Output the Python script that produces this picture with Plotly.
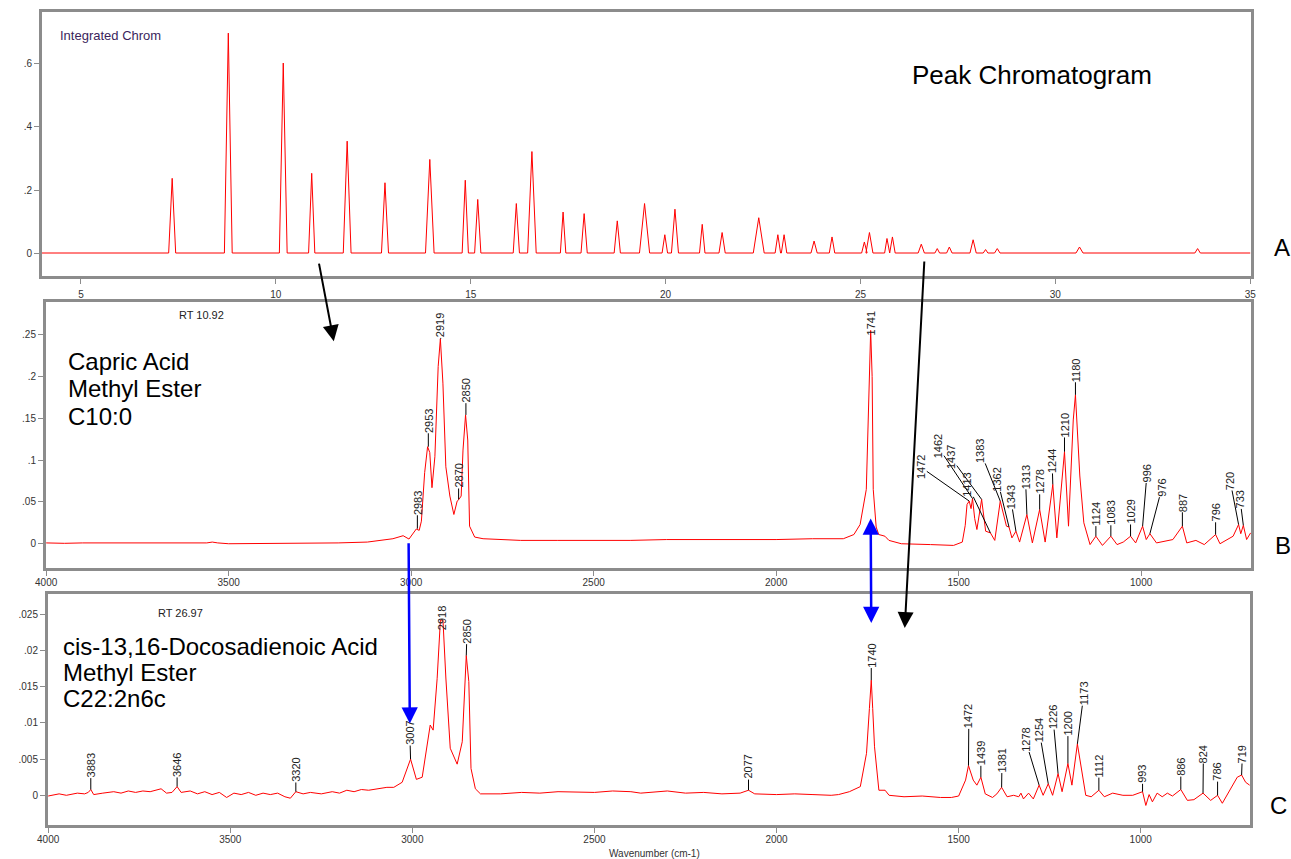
import plotly.graph_objects as go

W, H = 1291, 859
FONT = "Liberation Sans, Arial, sans-serif"

# ---------------- data: A, peak chromatogram ----------------
chrom_rt = [7.34, 8.78, 10.19, 10.92, 11.83, 12.80, 13.95, 14.86, 15.18, 16.17, 16.57, 17.37,
            17.91, 18.76, 19.46, 19.98, 20.24, 20.94, 21.45, 22.39, 22.88, 23.04, 23.81, 24.27,
            25.10, 25.23, 25.68, 25.82, 26.56, 26.97, 27.28, 27.89, 28.21, 28.51, 30.62, 33.65]
chrom_h = [0.237, 0.698, 0.603, 0.253, 0.355, 0.223, 0.297, 0.231, 0.170, 0.157, 0.322, 0.130,
           0.125, 0.102, 0.157, 0.058, 0.139, 0.091, 0.065, 0.112, 0.058, 0.058, 0.038, 0.051,
           0.035, 0.065, 0.046, 0.051, 0.028, 0.014, 0.019, 0.042, 0.011, 0.014, 0.019, 0.014]
chrom_hw = [0.09, 0.10, 0.10, 0.08, 0.10, 0.09, 0.11, 0.08, 0.08, 0.08, 0.11, 0.07,
            0.08, 0.08, 0.13, 0.07, 0.09, 0.07, 0.08, 0.14, 0.07, 0.07, 0.08, 0.07,
            0.07, 0.09, 0.06, 0.07, 0.08, 0.06, 0.07, 0.08, 0.06, 0.07, 0.09, 0.07]
chrom_start, chrom_end = 4.0, 35.0

# ---------------- data: B, IR spectrum at RT 10.92 ----------------
b_wn = [4000, 3950, 3900, 3700, 3560, 3545, 3530, 3500, 3300, 3200, 3120, 3086, 3050, 3022, 3006,
        2986, 2978, 2972, 2963, 2955, 2949, 2943, 2935, 2926, 2920, 2913, 2905, 2894, 2883, 2874,
        2869, 2863, 2858, 2851, 2845, 2840, 2826, 2803, 2758, 2700, 2600, 2500, 2400, 2300, 2200,
        2100, 2000, 1900, 1816, 1787, 1770, 1753, 1745, 1741, 1737, 1734, 1726, 1719, 1710, 1702,
        1691, 1657, 1577, 1514, 1490, 1482, 1477, 1471, 1466, 1462, 1456, 1450, 1437, 1426, 1413,
        1401, 1386, 1377, 1369, 1362, 1354, 1343, 1333, 1313, 1298, 1278, 1263, 1242, 1231, 1210,
        1199, 1186, 1180, 1168, 1157, 1140, 1124, 1106, 1083, 1066, 1049, 1029, 1015, 996, 986,
        976, 958, 913, 887, 875, 850, 827, 796, 784, 759, 748, 733, 727, 720, 711, 700]
b_abs = [0.001, 0.0005, 0.001, 0.0005, 0.001, 0.002, 0.001, 0.0, 0.0005, 0.001, 0.002, 0.004, 0.006, 0.0096, 0.0056,
         0.0176, 0.016, 0.027, 0.085, 0.116, 0.109, 0.067, 0.104, 0.212, 0.245, 0.192, 0.092, 0.057, 0.035, 0.051,
         0.053, 0.057, 0.112, 0.154, 0.124, 0.021, 0.008, 0.006, 0.005, 0.004, 0.004, 0.004, 0.004, 0.005, 0.005,
         0.005, 0.005, 0.006, 0.006, 0.011, 0.023, 0.065, 0.200, 0.255, 0.200, 0.065, 0.020, 0.011, 0.010, 0.009,
         0.004, 0.0, -0.001, -0.002, 0.002, 0.022, 0.047, 0.051, 0.042, 0.054, 0.030, 0.017, 0.053, 0.015, 0.013,
         0.004, 0.051, 0.033, 0.021, 0.020, 0.007, 0.015, 0.002, 0.035, 0.001, 0.041, 0.002, 0.071, 0.007, 0.110,
         0.021, 0.148, 0.178, 0.081, 0.025, -0.001, 0.009, -0.002, 0.009, -0.001, 0.002, 0.009, 0.001, 0.021, 0.005,
         0.012, 0.001, 0.005, 0.021, 0.001, 0.004, -0.001, 0.011, 0.0, 0.006, 0.009, 0.023, 0.012, 0.022, 0.005, 0.013]

b_peak_labels = ["2983", "2953", "2919", "2870", "2850", "1741", "1472", "1462", "1437", "1413", "1383",
                 "1362", "1343", "1313", "1278", "1244", "1210", "1180", "1124", "1083", "1029", "996",
                 "976", "887", "796", "720", "733"]
b_peak_wn = [2983, 2953, 2919, 2870, 2850, 1741, 1471, 1462, 1437, 1413, 1386,
             1362, 1343, 1313, 1278, 1242, 1210, 1180, 1124, 1083, 1029, 996,
             976, 887, 796, 733, 720]
b_peak_abs = [0.018, 0.116, 0.245, 0.053, 0.154, 0.255, 0.051, 0.054, 0.053, 0.013, 0.051,
              0.020, 0.015, 0.035, 0.041, 0.071, 0.110, 0.178, 0.009, 0.009, 0.009, 0.021,
              0.012, 0.021, 0.011, 0.023, 0.022]

# ---------------- data: C, IR spectrum at RT 26.97 ----------------
c_wn = [4000, 3970, 3950, 3920, 3900, 3890, 3883, 3875, 3850, 3820, 3800, 3780, 3760, 3740, 3720,
        3700, 3690, 3675, 3660, 3646, 3635, 3610, 3590, 3570, 3550, 3530, 3510, 3490, 3470, 3450,
        3430, 3410, 3390, 3370, 3350, 3335, 3320, 3300, 3280, 3250, 3220, 3200, 3180, 3160, 3140,
        3120, 3100, 3088, 3070, 3051, 3028, 3005, 2989, 2973, 2951, 2943, 2932, 2923, 2916, 2908,
        2896, 2877, 2863, 2852, 2845, 2839, 2827, 2813, 2758, 2700, 2650, 2600, 2550, 2500, 2450,
        2400, 2373, 2340, 2300, 2250, 2200, 2150, 2100, 2077, 2060, 2000, 1950, 1900, 1850, 1830,
        1800, 1770, 1753, 1745, 1740, 1736, 1731, 1719, 1702, 1691, 1650, 1600, 1550, 1520, 1500,
        1481, 1473, 1460, 1450, 1439, 1427, 1407, 1395, 1382, 1367, 1349, 1335, 1329, 1322, 1308,
        1295, 1279, 1268, 1254, 1242, 1227, 1216, 1200, 1189, 1174, 1163, 1151, 1136, 1115, 1100,
        1077, 1049, 1022, 995, 986, 977, 968, 955, 941, 927, 913, 890, 872, 854, 829,
        808, 789, 776, 758, 735, 723, 712, 701]
c_abs = [-0.0001, 0.0002, 0.0, 0.0003, 0.0002, 0.0004, 0.0008, 0.0001, 0.0003, 0.0005, 0.0003, 0.0006, 0.0004, 0.0006, 0.0005,
         0.0007, 0.0009, 0.0003, 0.0004, 0.0012, 0.0004, 0.0006, 0.0002, 0.0005, 0.0001, 0.0004, -0.0003, 0.0003, 0.0001, 0.0004,
         0.0, 0.0003, 0.0001, 0.0003, -0.0002, -0.0004, 0.0005, 0.0002, 0.0004, 0.0002, 0.0005, 0.0003, 0.0007, 0.0005, 0.0008,
         0.0007, 0.0009, 0.0010, 0.0011, 0.0011, 0.0018, 0.0050, 0.0022, 0.0025, 0.0097, 0.0090, 0.0161, 0.0242, 0.0242, 0.0162,
         0.0065, 0.0043, 0.0074, 0.0193, 0.0157, 0.0037, 0.0009, 0.0002, 0.0002, 0.0004, 0.0003, 0.0005, 0.0004, 0.0004, 0.0006,
         0.0005, 0.0003, 0.0004, 0.0006, 0.0003, 0.0004, 0.0002, 0.0003, 0.0007, 0.0002, 0.0001, 0.0002, 0.0001, 0.0, 0.0001,
         0.0005, 0.0012, 0.0058, 0.0120, 0.0159, 0.0120, 0.0067, 0.0007, 0.0007, 0.0, -0.0002, -0.0001, -0.0003, -0.0003, -0.0001,
         0.0021, 0.0041, 0.0021, 0.0014, 0.0025, 0.0002, -0.0003, 0.0002, 0.0011, -0.0002, 0.0, -0.0002, 0.0003, -0.0005, 0.0003,
         -0.0005, 0.0014, 0.0, 0.0016, 0.0, 0.0030, 0.0005, 0.0044, 0.0014, 0.0071, 0.0035, 0.0, -0.0002, 0.0007, -0.0002,
         0.0003, 0.0, 0.0, 0.0005, -0.0014, 0.0001, -0.0009, 0.0003, -0.0002, 0.0003, -0.0001, 0.0008, -0.0007, -0.0006, 0.0003,
         -0.0007, 0.0, -0.0011, 0.0005, 0.0025, 0.0028, 0.0018, 0.0014]

c_peak_labels = ["3883", "3646", "3320", "3007", "2918", "2850", "2077", "1740", "1472", "1439", "1381",
                 "1278", "1254", "1226", "1200", "1173", "1112", "993", "886", "824", "786", "719"]
c_peak_wn = [3883, 3646, 3320, 3005, 2918, 2852, 2077, 1740, 1473, 1439, 1382,
             1279, 1254, 1227, 1200, 1174, 1115, 995, 890, 829, 789, 723]
c_peak_abs = [0.0008, 0.0012, 0.0005, 0.0050, 0.0242, 0.0193, 0.0007, 0.0159, 0.0041, 0.0025, 0.0011,
              0.0014, 0.0016, 0.0030, 0.0044, 0.0071, 0.0007, 0.0005, 0.0008, 0.0003, 0.0, 0.0028]

# ---------------- layout geometry (page pixels) ----------------
A_box = (42, 1251, 12, 276)    # left, right, top, bottom
B_box = (46, 1251, 302, 568)
C_box = (48, 1250, 594, 825)
A_xr, A_yr = [4, 35.02], [-0.073, 0.765]
B_xr, B_yr = [4000.5, 699], [-0.029, 0.289]
C_xr, C_yr = [4000.5, 700], [-0.0041, 0.0278]

# label text anchor positions (wavenumber, absorbance) for the leader lines
b_label_pos = [(2983, 0.049), (2953, 0.147), (2919, 0.261), (2870, 0.081), (2850, 0.183), (1741, 0.263),
               (1605, 0.092), (1558, 0.117), (1523, 0.104), (1476, 0.071), (1441, 0.111),
               (1394, 0.077), (1358, 0.056), (1317, 0.080), (1278, 0.074), (1244, 0.099),
               (1210, 0.142), (1180, 0.208), (1124, 0.036), (1083, 0.037), (1029, 0.038),
               (984, 0.084), (943, 0.067), (887, 0.049), (796, 0.037), (756, 0.075), (729, 0.053)]
c_label_pos = [(3883, 0.0041), (3646, 0.0042), (3320, 0.0035), (3007, 0.0086), (2918, 0.0245),
               (2850, 0.0226), (2077, 0.0039), (1740, 0.0193), (1472, 0.0109), (1439, 0.0058),
               (1381, 0.0048), (1317, 0.0077), (1279, 0.0090), (1241, 0.0108), (1200, 0.0099),
               (1156, 0.0141), (1115, 0.0041), (995, 0.0029), (890, 0.0039), (828, 0.0057),
               (789, 0.0032), (721, 0.0057)]


def fx(px):
    return px / W


def fy(py):
    return 1 - py / H


def dom_x(box):
    return [fx(box[0]), fx(box[1])]


def dom_y(box):
    return [fy(box[3]), fy(box[2])]


def to_px(box, xr, yr, xv, yv):
    px = box[0] + (xv - xr[0]) / (xr[1] - xr[0]) * (box[1] - box[0])
    py = box[3] - (yv - yr[0]) / (yr[1] - yr[0]) * (box[3] - box[2])
    return px, py


PANELS = {"A": (A_box, A_xr, A_yr), "B": (B_box, B_xr, B_yr), "C": (C_box, C_xr, C_yr)}

# chromatogram polyline from the peak list
chrom_x, chrom_y = [chrom_start], [0.0]
for rt, h, hw in zip(chrom_rt, chrom_h, chrom_hw):
    chrom_x += [rt - hw, rt, rt + hw]
    chrom_y += [0.0, h, 0.0]
chrom_x.append(chrom_end)
chrom_y.append(0.0)

fig = go.Figure()
red = dict(color="#ff0000", width=1)
fig.add_trace(go.Scatter(x=chrom_x, y=chrom_y, mode="lines", line=red, xaxis="x", yaxis="y",
                         hoverinfo="skip"))
fig.add_trace(go.Scatter(x=b_wn, y=b_abs, mode="lines", line=red, xaxis="x2", yaxis="y2",
                         hoverinfo="skip"))
fig.add_trace(go.Scatter(x=c_wn, y=c_abs, mode="lines", line=red, xaxis="x3", yaxis="y3",
                         hoverinfo="skip"))

frame = dict(showline=True, mirror=True, linecolor="#8c8c8c", linewidth=3, showgrid=False,
             zeroline=False, ticks="outside", ticklen=5, tickwidth=1, tickcolor="#8c8c8c",
             tickfont=dict(size=10, color="#333", family=FONT), fixedrange=True,
             automargin=False)

wn_ticks = [4000, 3500, 3000, 2500, 2000, 1500, 1000]

fig.update_layout(
    width=W, height=H, margin=dict(l=0, r=0, t=0, b=0, pad=0, autoexpand=False),
    paper_bgcolor="white", plot_bgcolor="white", showlegend=False,
    font=dict(family=FONT, color="black"),
    xaxis=dict(frame, domain=dom_x(A_box), range=A_xr, anchor="y",
               tickvals=[5, 10, 15, 20, 25, 30, 35], ticklabelstandoff=2),
    yaxis=dict(frame, domain=dom_y(A_box), range=A_yr, anchor="x",
               tickvals=[0, 0.2, 0.4, 0.6], ticktext=["0", ".2", ".4", ".6"]),
    xaxis2=dict(frame, domain=dom_x(B_box), range=B_xr, anchor="y2", tickvals=wn_ticks,
                ticklabelstandoff=-2),
    yaxis2=dict(frame, domain=dom_y(B_box), range=B_yr, anchor="x2",
                tickvals=[0, 0.05, 0.1, 0.15, 0.2, 0.25],
                ticktext=["0", ".05", ".1", ".15", ".2", ".25"]),
    xaxis3=dict(frame, domain=dom_x(C_box), range=C_xr, anchor="y3", tickvals=wn_ticks,
                ticklabelstandoff=-2),
    yaxis3=dict(frame, domain=dom_y(C_box), range=C_yr, anchor="x3",
                tickvals=[0, 0.005, 0.01, 0.015, 0.02, 0.025],
                ticktext=["0", ".005", ".01", ".015", ".02", ".025"]),
)

ann = []


def peak_labels(labels, xs, ys, pos, xref, yref):
    for lab, x, y, (tx, ty) in zip(labels, xs, ys, pos):
        ann.append(dict(text=lab, x=x, y=y, xref=xref, yref=yref, axref=xref, ayref=yref,
                        ax=tx, ay=ty, showarrow=True, arrowhead=0, arrowwidth=1,
                        arrowcolor="black", textangle=-90, standoff=0, borderpad=0,
                        font=dict(size=11, color="#222", family=FONT)))


peak_labels(b_peak_labels, b_peak_wn, b_peak_abs, b_label_pos, "x2", "y2")
peak_labels(c_peak_labels, c_peak_wn, c_peak_abs, c_label_pos, "x3", "y3")


def text(s, x, y, size, xanchor="left", color="black"):
    ann.append(dict(text=s, x=fx(x), y=fy(y), xref="paper", yref="paper", showarrow=False,
                    xanchor=xanchor, yanchor="middle",
                    font=dict(size=size, color=color, family=FONT)))


text("Integrated Chrom", 58, 35, 13, color="#3b1f5c")
text("Peak Chromatogram", 910, 75, 26)
text("A", 1272, 247, 24)
text("B", 1273, 545, 24)
text("C", 1268, 805, 24)
text("RT 10.92", 201, 315, 11, "center", "#222")
text("RT 26.97", 180, 613, 11, "center", "#222")
for i, s in enumerate(["Capric Acid", "Methyl Ester", "C10:0"]):
    text(s, 66, 361 + 27.5 * i, 24)
for i, s in enumerate(["cis-13,16-Docosadienoic Acid", "Methyl Ester", "C22:2n6c"]):
    text(s, 61, 646 + 26 * i, 24)
text("Wavenumber (cm-1)", 654, 853, 10, "center", "#333")


def arrow(tail, head, color, width, size, both=False):
    tx, ty = to_px(*PANELS[tail[0]], tail[1], tail[2])
    hx, hy = to_px(*PANELS[head[0]], head[1], head[2])
    ann.append(dict(text="", x=fx(hx), y=fy(hy), xref="paper", yref="paper",
                    ax=tx - hx, ay=ty - hy, showarrow=True, arrowhead=2, arrowsize=size,
                    arrowwidth=width, arrowcolor=color, standoff=0, startstandoff=0,
                    arrowside="end+start" if both else "end", startarrowhead=2,
                    startarrowsize=size))


# chromatogram peak -> its spectrum, and matching bands between spectra
arrow(("A", 11.10, -0.029), ("B", 3212, 0.242), "black", 2, 1.6)
arrow(("A", 26.64, -0.022), ("C", 1648, 0.0231), "black", 2, 1.6)
arrow(("B", 1741, 0.032), ("C", 1740, 0.0238), "#0000ff", 2.5, 1.3, both=True)
arrow(("B", 3007, 0.0024), ("C", 3007, 0.0099), "#0000ff", 2.5, 1.3)

fig.update_layout(annotations=ann)
fig.write_html("out.html", config={"displayModeBar": False, "staticPlot": True},
               post_script="document.body.style.margin='0';document.body.style.overflow='hidden';")
